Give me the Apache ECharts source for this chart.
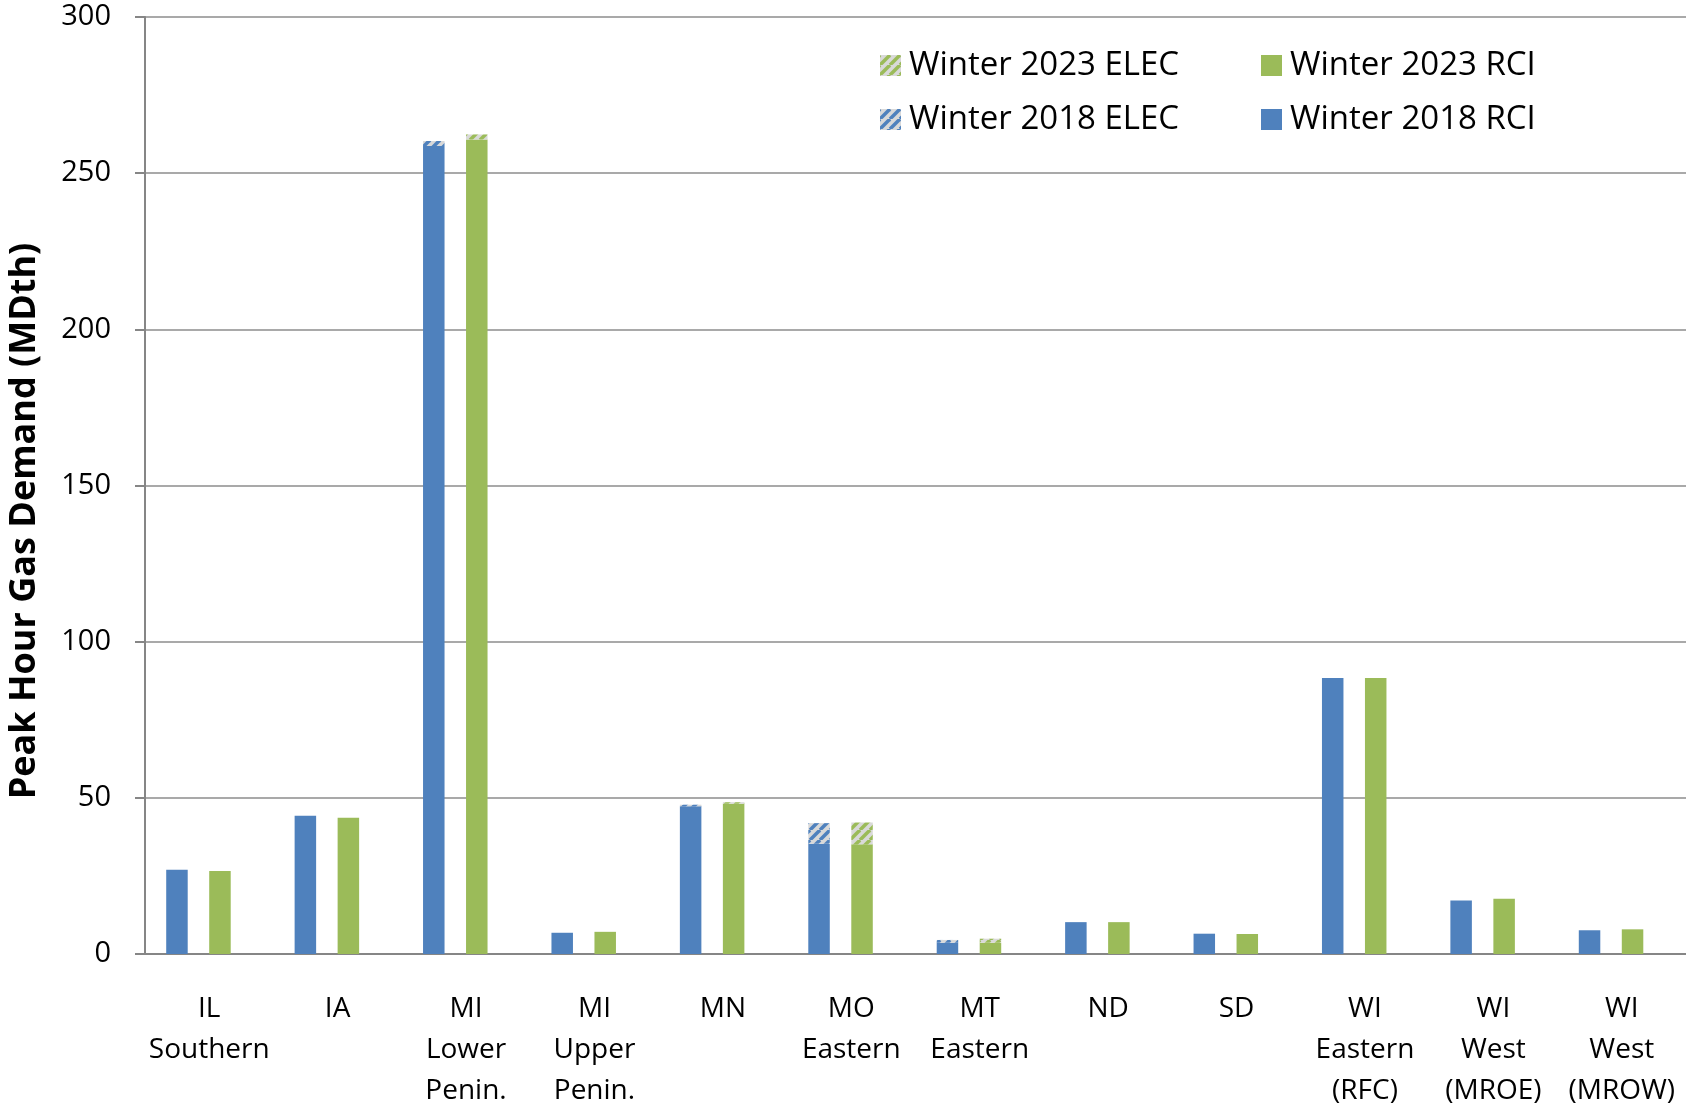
<!DOCTYPE html>
<html>
<head>
<meta charset="utf-8">
<script src="https://cdn.jsdelivr.net/npm/echarts@6/dist/echarts.min.js"></script>
<style>
html,body{margin:0;padding:0;background:#fff;}
#chart{width:1686px;height:1112px;}
</style>
</head>
<body>
<div id="chart"></div>
<script>
const categories = ['IL\nSouthern','IA','MI\nLower\nPenin.','MI\nUpper\nPenin.','MN','MO\nEastern','MT\nEastern','ND','SD','WI\nEastern\n(RFC)','WI\nWest\n(MROE)','WI\nWest\n(MROW)'];
const rci2018  = [27.0, 44.3, 258.7, 6.8, 47.3, 35.3, 3.6, 10.2, 6.5, 88.4, 17.1, 7.6];
const elec2018 = [0, 0, 1.6, 0, 0.5, 6.6, 0.9, 0, 0, 0, 0, 0];
const rci2023  = [26.6, 43.6, 260.8, 7.1, 48.1, 35.1, 3.6, 10.2, 6.4, 88.4, 17.7, 7.9];
const elec2023 = [0, 0, 1.6, 0, 0.5, 7.0, 1.3, 0, 0, 0, 0, 0];
const yTicks = [0, 50, 100, 150, 200, 250, 300];

const BLUE = '#4F81BD', GREEN = '#9BBB59';
function hatch(color){
  const c = document.createElement('canvas');
  const s = 10; c.width = s; c.height = s;
  const g = c.getContext('2d');
  g.fillStyle = '#D9D9D9'; g.fillRect(0,0,s,s);
  g.strokeStyle = color; g.lineWidth = 3.5;
  for (let k=-1;k<=1;k++){
    g.beginPath(); g.moveTo(k*s, s); g.lineTo(k*s+s, 0); g.stroke();
  }
  return {image: c, repeat: 'repeat'};
}
const FONT = 'Open Sans';
const chart = echarts.init(document.getElementById('chart'));
const barCommon = {type:'bar', barWidth:21.5, barGap:'0%'};
const legendText = {fontFamily:FONT, fontSize:33, color:'#000', lineHeight:30, padding:[0,0,0,3]};
chart.setOption({
  animation:false,
  textStyle:{fontFamily:FONT},
  grid:{left:145, right:0, top:17, bottom:149, containLabel:false},
  legend:[
    {orient:'vertical', left:875, top:44, itemWidth:21, itemHeight:21, itemGap:21, icon:'rect',
     textStyle:legendText, data:['Winter 2023 ELEC','Winter 2018 ELEC']},
    {orient:'vertical', left:1256, top:44, itemWidth:21, itemHeight:21, itemGap:21, icon:'rect',
     textStyle:legendText, data:['Winter 2023 RCI','Winter 2018 RCI']}
  ],
  xAxis:{type:'category', data:categories,
    axisLine:{lineStyle:{color:'#868686', width:2}},
    axisTick:{length:10, lineStyle:{color:'#868686', width:2}},
    axisLabel:{interval:0, fontSize:28, color:'#000', lineHeight:41, margin:35, fontFamily:FONT}
  },
  yAxis:{type:'value', min:yTicks[0], max:yTicks[yTicks.length-1], interval:50,
    axisLine:{show:true, lineStyle:{color:'#868686', width:2}},
    axisTick:{show:true, length:10, lineStyle:{color:'#868686', width:2}},
    axisLabel:{fontSize:29, color:'#000', margin:34, fontFamily:FONT},
    splitLine:{lineStyle:{color:'#8c8c8c', width:1.5}}
  },
  graphic:[{type:'text', x:25, y:521, rotation:Math.PI/2,
    style:{text:'Peak Hour Gas Demand (MDth)', font:'bold 36px "Open Sans"', fill:'#000', textAlign:'center', textVerticalAlign:'middle'}}],
  series:[
    Object.assign({name:'Winter 2018 RCI', stack:'a', data:rci2018, itemStyle:{color:BLUE}}, barCommon),
    Object.assign({name:'Winter 2018 ELEC', stack:'a', data:elec2018, itemStyle:{color:hatch(BLUE)}}, barCommon),
    Object.assign({name:'_gap1', stack:'b', data:[]}, barCommon),
    Object.assign({name:'Winter 2023 RCI', stack:'c', data:rci2023, itemStyle:{color:GREEN}}, barCommon),
    Object.assign({name:'Winter 2023 ELEC', stack:'c', data:elec2023, itemStyle:{color:hatch(GREEN)}}, barCommon),
    Object.assign({name:'_gap2', stack:'d', data:[]}, barCommon)
  ]
});
</script>
</body>
</html>
